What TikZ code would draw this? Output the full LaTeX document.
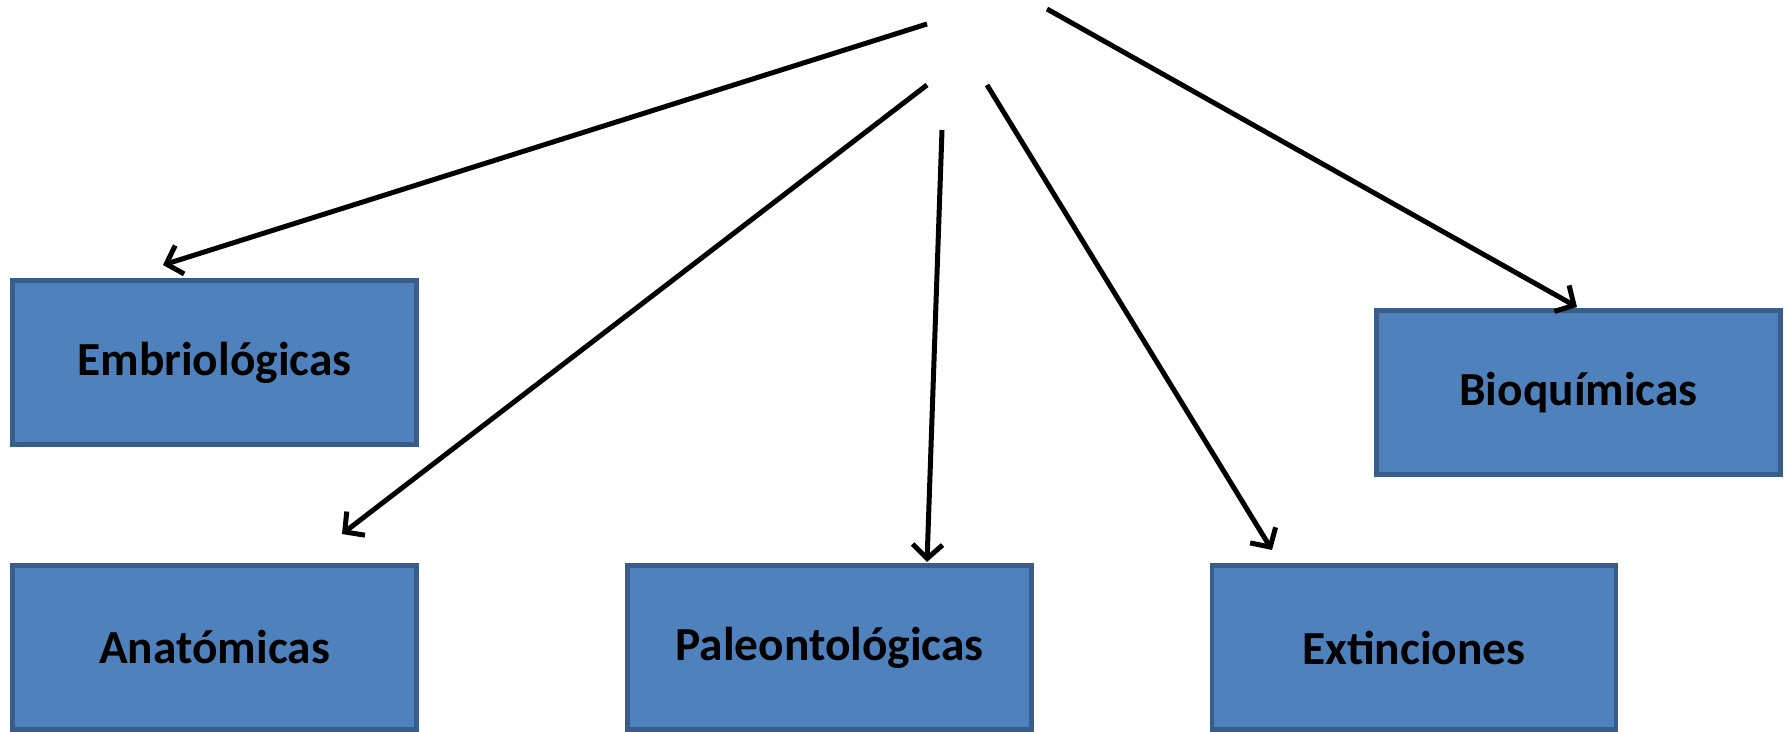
\documentclass[tikz,border=0pt]{standalone}
\usepackage{fontspec}
\setmainfont{Carlito}
\usetikzlibrary{arrows.meta}
\definecolor{boxfill}{HTML}{4F81BD}
\definecolor{boxline}{HTML}{385D8A}
\begin{document}
\begin{tikzpicture}[x=0.02cm,y=-0.02cm]
    \tikzstyle{evbox}=[draw=boxline, fill=boxfill, line width=0.09cm, minimum width=8.09cm, minimum height=3.29cm, inner sep=0pt, font=\fontsize{27}{32}\selectfont\bfseries]
    \tikzstyle{evarrow}=[black, line width=0.1cm, -{Straight Barb[length=8pt,width=17pt]}]
    \useasboundingbox (0,0) rectangle (1791,732);
    \node [evbox] (emb) at (214.5,362.5) {Embriológicas};
    \node [evbox] (ana) at (214.5,647.5) {Anatómicas};
    \node [evbox] (pal) at (829.5,647.5) {Paleontológicas};
    \node [evbox] (ext) at (1414,647.5) {Extinciones};
    \node [evbox] (bio) at (1578.5,392.5) {Bioquímicas};
    \coordinate (s1) at (927,24);
    \coordinate (e1) at (163,265);
    \coordinate (s2) at (927,85);
    \coordinate (e2) at (342,534);
    \coordinate (s3) at (942,130);
    \coordinate (e3) at (927,562);
    \coordinate (s4) at (987,85);
    \coordinate (e4) at (1272,550);
    \coordinate (s5) at (1047,9);
    \coordinate (e5) at (1577,307);
    \foreach \i in {1,...,5}
        \draw [evarrow] (s\i) -- (e\i);
\end{tikzpicture}
\end{document}
